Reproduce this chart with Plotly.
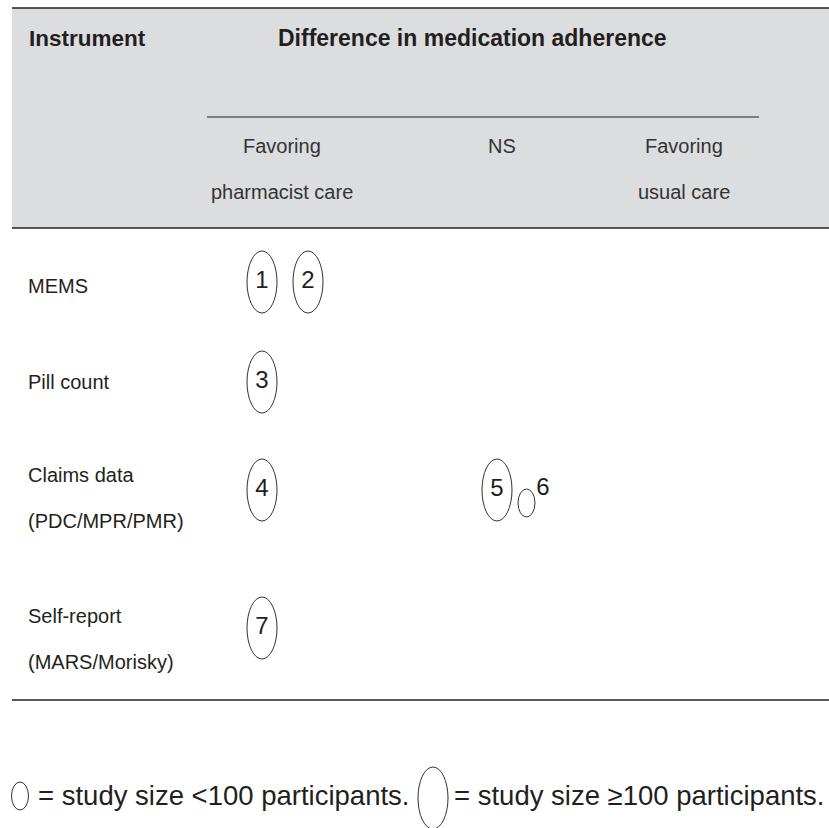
import plotly.graph_objects as go

# ---------------- data ----------------
instruments = ["MEMS", "Pill count", "Claims data", "Self-report"]
instrument_sublabels = ["", "", "(PDC/MPR/PMR)", "(MARS/Morisky)"]
result_columns = ["Favoring pharmacist care", "NS", "Favoring usual care"]
column_header_line1 = ["Favoring", "NS", "Favoring"]
column_header_line2 = ["pharmacist care", "", "usual care"]

study_ids = [1, 2, 3, 4, 5, 6, 7]
study_instrument = ["MEMS", "MEMS", "Pill count", "Claims data", "Claims data", "Claims data", "Self-report"]
study_result = ["Favoring pharmacist care", "Favoring pharmacist care", "Favoring pharmacist care",
                "Favoring pharmacist care", "NS", "NS", "Favoring pharmacist care"]
study_large = [True, True, True, True, True, False, True]   # >=100 participants

legend_small = "= study size <100 participants."
legend_large = "= study size \u2265100 participants."
title_left = "Instrument"
title_main = "Difference in medication adherence"

# ---------------- layout (pixel-like axis units) ----------------
W, H = 829, 828
FONT = "Liberation Sans, Arial, sans-serif"
INK = "#231f20"
GRAY = "#dcdddf"

col_x = {"Favoring pharmacist care": 282, "NS": 502, "Favoring usual care": 684}
ellipse_col_x = {"Favoring pharmacist care": 262, "NS": 497, "Favoring usual care": 684}
row_label_y = {"MEMS": (286, None), "Pill count": (382, None),
               "Claims data": (475, 521), "Self-report": (616, 662)}
row_ellipse_y = {"MEMS": 282, "Pill count": 382, "Claims data": 490, "Self-report": 628}
BIG = (30, 62)
SMALL = (17, 28)

fig = go.Figure()
shapes = []
ann = []

# header band
shapes.append(dict(type="rect", xref="x", yref="y", x0=12, x1=W + 2, y0=8, y1=228,
                   fillcolor=GRAY, line=dict(width=0), layer="below"))
shapes.append(dict(type="line", xref="x", yref="y", x0=12, x1=W + 2, y0=8, y1=8,
                   line=dict(color=INK, width=1.5)))
shapes.append(dict(type="line", xref="x", yref="y", x0=12, x1=W + 2, y0=228, y1=228,
                   line=dict(color=INK, width=1.5)))
shapes.append(dict(type="line", xref="x", yref="y", x0=207, x1=759, y0=117, y1=117,
                   line=dict(color=INK, width=1.2)))
shapes.append(dict(type="line", xref="x", yref="y", x0=12, x1=W + 2, y0=700, y1=700,
                   line=dict(color=INK, width=1.5)))

ann.append(dict(x=27, y=38, text="<b>" + title_left + "</b>", xanchor="left", yanchor="middle",
                font=dict(size=22.5, color=INK)))
ann.append(dict(x=472, y=38, text="<b>" + title_main + "</b>", xanchor="center", yanchor="middle",
                font=dict(size=23, color=INK)))
for c, l1, l2 in zip(result_columns, column_header_line1, column_header_line2):
    ann.append(dict(x=col_x[c], y=146, text=l1, xanchor="center", yanchor="middle",
                    font=dict(size=20, color="#333333")))
    if l2:
        ann.append(dict(x=col_x[c], y=192, text=l2, xanchor="center", yanchor="middle",
                        font=dict(size=20, color="#333333")))

# row labels
for inst, sub in zip(instruments, instrument_sublabels):
    y1, y2 = row_label_y[inst]
    ann.append(dict(x=26, y=y1, text=inst, xanchor="left", yanchor="middle",
                    font=dict(size=20, color=INK)))
    if sub:
        ann.append(dict(x=26, y=y2, text=sub, xanchor="left", yanchor="middle",
                        font=dict(size=20, color=INK)))

# study ellipses, placed sequentially inside their cell
cell_cursor = {}
num_x, num_y, num_t = [], [], []
for sid, inst, res, large in zip(study_ids, study_instrument, study_result, study_large):
    w, h = BIG if large else SMALL
    key = (inst, res)
    cy_base = row_ellipse_y[inst]
    if key not in cell_cursor:
        cx = ellipse_col_x[res]
    else:
        prev_right, prev_large = cell_cursor[key]
        gap = 16 if large else 6
        cx = prev_right + gap + w / 2
    cell_cursor[key] = (cx + w / 2, large)
    cy = cy_base if large else cy_base + BIG[1] / 2 - 4 - h / 2
    shapes.append(dict(type="circle", xref="x", yref="y", x0=cx - w / 2, x1=cx + w / 2,
                       y0=cy - h / 2, y1=cy + h / 2, line=dict(color="#333333", width=1)))
    if large:
        num_x.append(cx); num_y.append(cy)
    else:
        num_x.append(cx + w / 2 + 8); num_y.append(cy - 14)
    num_t.append(str(sid))

fig.add_trace(go.Scatter(x=num_x, y=num_y, text=num_t, mode="text",
                         textfont=dict(size=24, color=INK, family=FONT),
                         textposition="middle center", hoverinfo="skip", showlegend=False))

# legend
shapes.append(dict(type="circle", xref="x", yref="y", x0=20 - SMALL[0] / 2, x1=20 + SMALL[0] / 2,
                   y0=796 - SMALL[1] / 2, y1=796 + SMALL[1] / 2, line=dict(color="#333333", width=1)))
ann.append(dict(x=36, y=795, text=legend_small, xanchor="left", yanchor="middle",
                font=dict(size=27.5, color=INK)))
shapes.append(dict(type="circle", xref="x", yref="y", x0=433 - BIG[0] / 2, x1=433 + BIG[0] / 2,
                   y0=798 - BIG[1] / 2, y1=798 + BIG[1] / 2, line=dict(color="#333333", width=1)))
ann.append(dict(x=452, y=795, text=legend_large, xanchor="left", yanchor="middle",
                font=dict(size=27.5, color=INK)))

for a in ann:
    a.update(xref="x", yref="y", showarrow=False)

fig.update_layout(
    width=W, height=H, margin=dict(l=0, r=0, t=0, b=0),
    paper_bgcolor="white", plot_bgcolor="white",
    font=dict(family=FONT, color=INK),
    xaxis=dict(range=[0, W], visible=False, fixedrange=True),
    yaxis=dict(range=[H, 0], visible=False, fixedrange=True),
    shapes=shapes, annotations=ann, showlegend=False,
)
fig.write_html("out.html", config={"displayModeBar": False, "staticPlot": True},
               post_script="document.body.style.margin='0';document.body.style.overflow='hidden';")
